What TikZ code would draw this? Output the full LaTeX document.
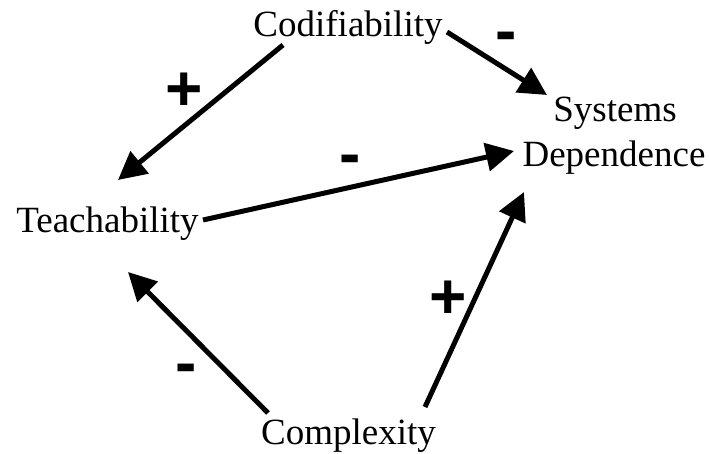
\documentclass[tikz,border=0pt]{standalone}
\usepackage{fontspec}
\setmainfont{Liberation Serif}
\newfontfamily\signfont{Liberation Sans}
\usetikzlibrary{arrows.meta,calc}
\begin{document}
\begin{tikzpicture}[x=1pt,y=-1pt,
  lbl/.style={inner sep=0pt,anchor=base,font=\fontsize{37}{45}\selectfont},
  sgn/.style={inner sep=0pt,anchor=base,font=\signfont\bfseries\fontsize{64}{64}\selectfont},
  link/.style={line width=5pt,-{Triangle[length=28pt,width=28pt]}}]
\useasboundingbox (0,0) rectangle (710,454);
\node[lbl] (cod) at (348,37) {Codifiability};
\node[lbl] (sys) at (615,122) {Systems};
\node[lbl] (dep) at (614,167) {Dependence};
\node[lbl] (tea) at (107.5,233) {Teachability};
\node[lbl] (com) at (348.5,445) {Complexity};
% connectors
\draw[link] ($(cod.base)+(-65,8)$) -- ($(tea.base)+(10.5,-53)$);
\draw[link] ($(cod.base)+(99,-5)$) -- ($(sys.base)+(-68,-27)$);
\draw[link] ($(tea.base)+(95.5,-13)$) -- ($(dep.base)+(-100,-16)$);
\draw[link] ($(com.base)+(-80.5,-32)$) -- ($(tea.base)+(20.5,39)$);
\draw[link] ($(com.base)+(76.5,-38)$) -- ($(dep.base)+(-90,25)$);
% signs
\node[sgn] (s1) at (184,111) {+};
\node[sgn] (s2) at (506,53) {-};
\node[sgn] (s3) at (350,176) {-};
\node[sgn] (s4) at (186,385) {-};
\node[sgn] (s5) at (448,319) {+};
\end{tikzpicture}
\end{document}
